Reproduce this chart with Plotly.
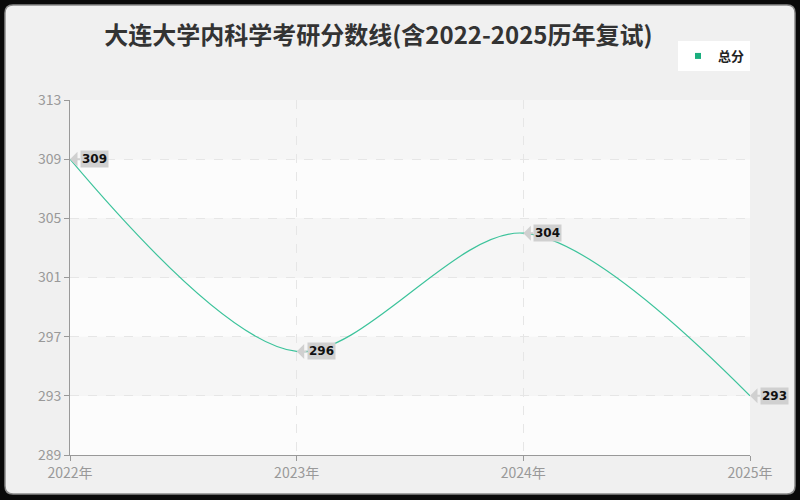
import plotly.graph_objects as go

# scores per year
years = ["2022年", "2023年", "2024年", "2025年"]
scores = [309, 296, 304, 293]
y_ticks = [289, 293, 297, 301, 305, 309, 313]

title = "大连大学内科学考研分数线(含2022-2025历年复试)"
line_color = "#3cc39b"

W, H = 800, 500
L, R, T, B = 70, 50, 100, 45


def px_to_paper(px, py):
    """Convert page pixels to paper coords."""
    return (px - L) / (W - L - R), (H - B - py) / (H - T - B)


fig = go.Figure()

fig.add_trace(go.Scatter(
    x=years, y=scores,
    mode="lines",
    line=dict(color=line_color, width=1.2, shape="spline", smoothing=0.9),
    showlegend=False,
    hoverinfo="x+y",
))

# legend entry with a square swatch
fig.add_trace(go.Scatter(
    x=[None], y=[None], mode="markers", name="总分",
    marker=dict(symbol="square", size=6, color="#1aae7e"),
))

# card background with rounded corners
x0, y0 = px_to_paper(5, 494)
x1, y1 = px_to_paper(795, 5)
r = 8 / (W - L - R)
ry = 8 / (H - T - B)
card = (f"M {x0 + r},{y0} L {x1 - r},{y0} Q {x1},{y0} {x1},{y0 + ry} "
        f"L {x1},{y1 - ry} Q {x1},{y1} {x1 - r},{y1} L {x0 + r},{y1} "
        f"Q {x0},{y1} {x0},{y1 - ry} L {x0},{y0 + ry} Q {x0},{y0} {x0 + r},{y0} Z")
shapes = [dict(type="path", xref="paper", yref="paper", path=card,
               fillcolor="#f0f0f0", line=dict(color="#8a8a8a", width=1.5),
               layer="below")]

# alternating bands in plot area
for i in range(len(y_ticks) - 1):
    shapes.append(dict(type="rect", xref="paper", yref="y",
                       x0=0, x1=1, y0=y_ticks[i], y1=y_ticks[i + 1],
                       fillcolor="#fcfcfc" if i % 2 == 0 else "#f6f6f6",
                       line=dict(width=0), layer="below"))

annotations = []
for yr, s in zip(years, scores):
    annotations.append(dict(
        x=yr, y=s, text=str(s), showarrow=True,
        ax=10, ay=0, xanchor="left", yanchor="middle",
        arrowhead=1, arrowsize=1.25, arrowwidth=2, arrowcolor="#d0d0d0",
        standoff=0,
        bgcolor="#d0d0d0", borderpad=1,
        font=dict(family="DejaVu Sans", size=12, color="#111", weight="bold"),
    ))

fig.update_layout(
    width=W, height=H,
    margin=dict(l=L, r=R, t=T, b=B),
    paper_bgcolor="#0a0a0a",
    plot_bgcolor="#ffffff",
    shapes=shapes,
    annotations=annotations,
    title=dict(text=title, x=0.473, xanchor="center", y=0.928, yanchor="middle",
               font=dict(family="Noto Sans CJK SC", size=24, color="#333333",
                         weight="bold")),
    legend=dict(x=1, xanchor="right", y=1.124, yanchor="middle",
                bgcolor="#ffffff", borderwidth=0,
                font=dict(family="Noto Sans CJK SC", size=13, color="#222",
                          weight="bold"),
                itemwidth=30),
    xaxis=dict(
        range=[0, 3], tickmode="array", tickvals=years, ticktext=years,
        showline=True, linecolor="#999", linewidth=1,
        ticks="outside", ticklen=5, tickcolor="#999",
        showgrid=True, gridcolor="#e6e6e6", griddash="dash", gridwidth=1,
        tickfont=dict(family="Noto Sans CJK SC", size=14, color="#999"),
        zeroline=False,
    ),
    yaxis=dict(
        range=[289, 313], tickmode="array", tickvals=y_ticks,
        showline=True, linecolor="#999", linewidth=1,
        ticks="outside", ticklen=5, tickcolor="#999",
        showgrid=True, gridcolor="#e6e6e6", griddash="dash", gridwidth=1,
        tickfont=dict(family="Noto Sans CJK SC", size=14, color="#999"),
        zeroline=False,
    ),
)
fig.update_xaxes(type="category")

fig.write_html("out.html", config={"displayModeBar": False},
               post_script="document.body.style.margin='0';")
